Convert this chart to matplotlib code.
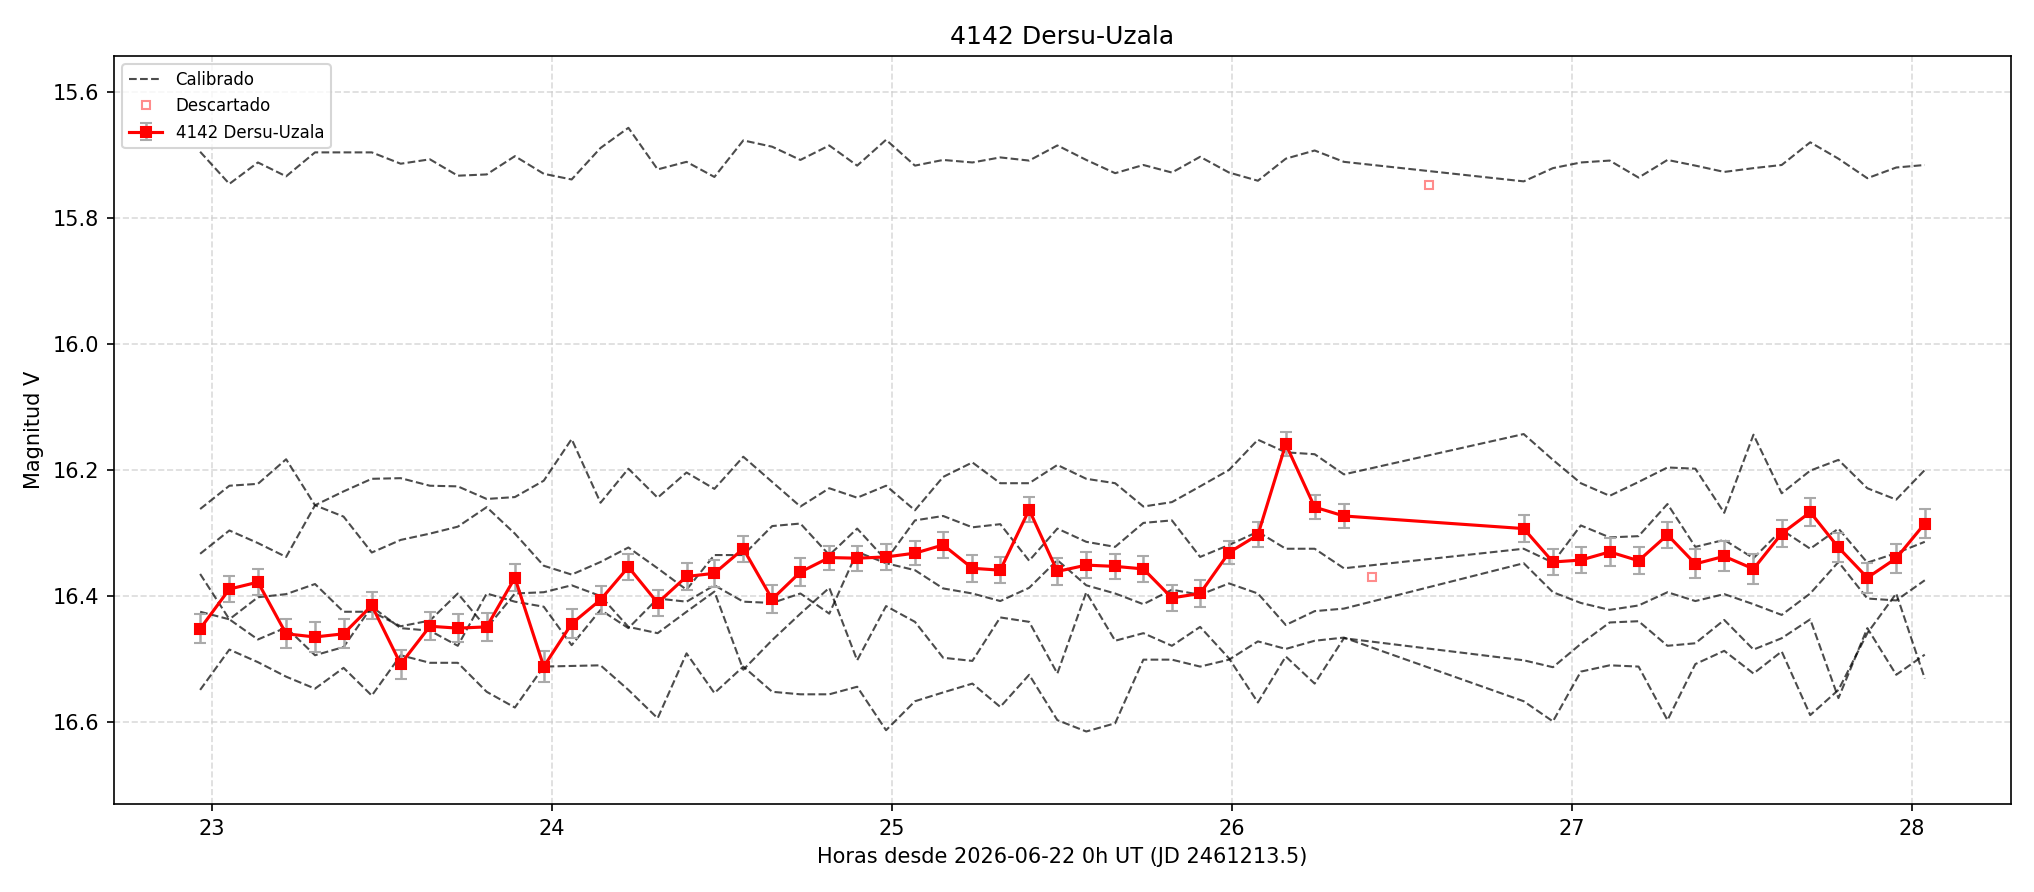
import matplotlib
matplotlib.use('Agg')
import matplotlib.pyplot as plt


# ***** DATA *****
# Hours since 2026-06-22 0h UT
hours = [22.965, 23.051, 23.135, 23.218, 23.303, 23.387, 23.470, 23.555, 23.641, 23.723,
         23.808, 23.891, 23.976, 24.058, 24.143, 24.225, 24.311, 24.396, 24.478, 24.563,
         24.648, 24.731, 24.816, 24.898, 24.983, 25.068, 25.151, 25.237, 25.319, 25.404,
         25.487, 25.572, 25.657, 25.740, 25.824, 25.907, 25.992, 26.077, 26.159, 26.244,
         26.330, 26.859, 26.945, 27.027, 27.112, 27.197, 27.282, 27.364, 27.449, 27.535,
         27.618, 27.702, 27.785, 27.870, 27.955, 28.039]

# Target magnitudes and errors
targetMag = [16.452, 16.389, 16.378, 16.460, 16.465, 16.460, 16.415, 16.508, 16.448, 16.451,
             16.449, 16.371, 16.512, 16.444, 16.406, 16.354, 16.411, 16.369, 16.364, 16.325,
             16.405, 16.362, 16.339, 16.340, 16.338, 16.332, 16.319, 16.356, 16.359, 16.263,
             16.361, 16.351, 16.353, 16.357, 16.403, 16.396, 16.331, 16.303, 16.159, 16.259,
             16.273, 16.293, 16.346, 16.343, 16.330, 16.344, 16.303, 16.349, 16.337, 16.357,
             16.301, 16.267, 16.323, 16.371, 16.340, 16.285]
targetErr = [0.023, 0.021, 0.021, 0.023, 0.024, 0.023, 0.022, 0.023, 0.022, 0.022,
             0.022, 0.021, 0.024, 0.023, 0.022, 0.021, 0.021, 0.021, 0.021, 0.021,
             0.022, 0.022, 0.019, 0.020, 0.020, 0.019, 0.021, 0.021, 0.021, 0.020,
             0.022, 0.021, 0.020, 0.021, 0.021, 0.022, 0.019, 0.020, 0.019, 0.019,
             0.019, 0.021, 0.021, 0.021, 0.022, 0.021, 0.021, 0.023, 0.024, 0.024,
             0.022, 0.022, 0.023, 0.024, 0.023, 0.023]

# Calibrated comparison stars
calTop = [15.695, 15.746, 15.712, 15.734, 15.696, 15.696, 15.696, 15.714, 15.707, 15.733,
          15.731, 15.702, 15.730, 15.739, 15.689, 15.657, 15.723, 15.711, 15.735, 15.677,
          15.687, 15.708, 15.685, 15.717, 15.676, 15.717, 15.708, 15.712, 15.704, 15.709,
          15.685, 15.708, 15.729, 15.716, 15.728, 15.703, 15.728, 15.741, 15.706, 15.693,
          15.711, 15.742, 15.721, 15.712, 15.709, 15.736, 15.708, 15.717, 15.727, 15.721,
          15.716, 15.680, 15.706, 15.737, 15.720, 15.716]
calP = [16.262, 16.225, 16.222, 16.183, 16.256, 16.234, 16.214, 16.213, 16.225, 16.226,
        16.246, 16.243, 16.217, 16.151, 16.252, 16.198, 16.244, 16.204, 16.230, 16.179,
        16.219, 16.258, 16.229, 16.244, 16.225, 16.264, 16.211, 16.188, 16.221, 16.221,
        16.192, 16.214, 16.221, 16.258, 16.251, 16.226, 16.200, 16.152, 16.172, 16.175,
        16.207, 16.143, 16.184, 16.221, 16.241, 16.219, 16.196, 16.198, 16.268, 16.144,
        16.237, 16.201, 16.184, 16.229, 16.247, 16.200]
calQ = [16.333, 16.296, 16.316, 16.338, 16.256, 16.274, 16.331, 16.311, 16.301, 16.290,
        16.259, 16.301, 16.352, 16.366, 16.346, 16.323, 16.356, 16.390, 16.335, 16.335,
        16.289, 16.285, 16.335, 16.293, 16.343, 16.280, 16.273, 16.291, 16.286, 16.344,
        16.293, 16.314, 16.322, 16.284, 16.280, 16.338, 16.319, 16.298, 16.325, 16.325,
        16.356, 16.325, 16.347, 16.288, 16.307, 16.305, 16.254, 16.322, 16.311, 16.340,
        16.295, 16.325, 16.293, 16.347, 16.332, 16.314]
calR = [16.365, 16.437, 16.469, 16.450, 16.494, 16.481, 16.417, 16.451, 16.455, 16.479,
        16.396, 16.409, 16.417, 16.478, 16.422, 16.451, 16.404, 16.409, 16.383, 16.409,
        16.411, 16.396, 16.428, 16.330, 16.348, 16.359, 16.388, 16.396, 16.408, 16.387,
        16.343, 16.383, 16.396, 16.413, 16.390, 16.398, 16.380, 16.396, 16.446, 16.424,
        16.420, 16.348, 16.394, 16.411, 16.422, 16.415, 16.394, 16.408, 16.397, 16.413,
        16.430, 16.396, 16.346, 16.404, 16.407, 16.375]
calS = [16.425, 16.437, 16.402, 16.397, 16.381, 16.425, 16.425, 16.448, 16.439, 16.396,
        16.451, 16.396, 16.394, 16.383, 16.400, 16.449, 16.459, 16.425, 16.393, 16.517,
        16.470, 16.428, 16.387, 16.502, 16.416, 16.441, 16.498, 16.503, 16.434, 16.441,
        16.523, 16.394, 16.471, 16.459, 16.479, 16.449, 16.499, 16.569, 16.496, 16.539,
        16.467, 16.502, 16.513, 16.476, 16.442, 16.440, 16.479, 16.475, 16.438, 16.485,
        16.467, 16.437, 16.562, 16.451, 16.525, 16.493]
calT = [16.549, 16.485, 16.505, 16.528, 16.547, 16.514, 16.558, 16.494, 16.506, 16.506,
        16.552, 16.577, 16.512, 16.511, 16.510, 16.549, 16.594, 16.491, 16.554, 16.512,
        16.552, 16.556, 16.556, 16.544, 16.613, 16.567, 16.553, 16.539, 16.576, 16.525,
        16.597, 16.615, 16.602, 16.501, 16.501, 16.512, 16.501, 16.472, 16.484, 16.471,
        16.466, 16.567, 16.599, 16.520, 16.510, 16.512, 16.597, 16.508, 16.487, 16.523,
        16.488, 16.589, 16.549, 16.459, 16.396, 16.531]
calibrated = [calTop, calP, calQ, calR, calS, calT]

# Discarded frames
discHours = [26.413, 26.580]
discMag = [16.370, 15.748]


# ***** GRAPHING *****
fig, ax = plt.subplots(figsize=(13.56, 5.947), dpi=150)
fig.subplots_adjust(left=0.056, right=0.9887, top=0.9372, bottom=0.0987)

for i, cal in enumerate(calibrated):
    ax.plot(hours, cal, color='k', linestyle='--', linewidth=1, alpha=0.7,
            label='Calibrado' if i == 0 else None)

ax.plot(discHours, discMag, linestyle='none', marker='s', markersize=4,
        markerfacecolor='none', markeredgecolor='red', alpha=0.45, label='Descartado')

ax.errorbar(hours, targetMag, yerr=targetErr, fmt='s-', color='red', markersize=5,
            linewidth=1.5, ecolor='#aaaaaa', elinewidth=1.2, capsize=3,
            label='4142 Dersu-Uzala', zorder=5)

ax.set_ylim(16.73, 15.543)
ax.set_title('4142 Dersu-Uzala', fontsize=12)
ax.set_xlabel('Horas desde 2026-06-22 0h UT (JD 2461213.5)')
ax.set_ylabel('Magnitud V')
ax.grid(True, linestyle='--', color='#cccccc', alpha=0.7)
ax.legend(loc='upper left', fontsize=8)

fig.savefig('out.png', dpi=150)
